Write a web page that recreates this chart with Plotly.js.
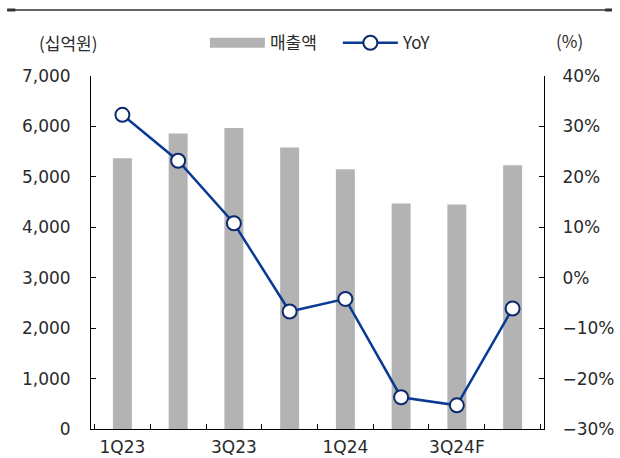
<!DOCTYPE html>
<html>
<head>
<meta charset="utf-8">
<script src="https://cdn.plot.ly/plotly-3.0.1.min.js"></script>
<style>html,body{margin:0;padding:0;background:#fff;}#chart{width:620px;height:458px;}</style>
</head>
<body>
<div id="chart"></div>
<script>
// Data
const quarters = ['1Q23','2Q23','3Q23','4Q23','1Q24','2Q24','3Q24F','4Q24F'];
const tickLabels = ['1Q23','','3Q23','','1Q24','','3Q24F',''];
const sales = [5370, 5860, 5970, 5580, 5150, 4470, 4450, 5230];   // 매출액 (십억원)
const yoy = [32.3, 23.2, 10.8, -6.7, -4.2, -23.7, -25.3, -6.1];   // YoY (%)

const FONT = 'DejaVu Sans, "Noto Sans CJK KR", sans-serif';
const KFONT = '"Noto Sans CJK KR", sans-serif';
const TXT = '#2a2a2a';

const traces = [
  {
    type: 'bar', name: '매출액', x: quarters, y: sales,
    marker: {color: '#b3b3b3'}, width: 0.34, showlegend: false,
    legendgroup: 'sales', hoverinfo: 'skip'
  },
  {
    type: 'scatter', mode: 'lines', name: '매출액', x: [null], y: [null],
    line: {color: '#b3b3b3', width: 10}, legendgroup: 'sales', hoverinfo: 'skip'
  },
  {
    type: 'scatter', mode: 'lines+markers', name: 'YoY', x: quarters, y: yoy, yaxis: 'y2',
    line: {color: '#0a3a94', width: 2.5},
    marker: {symbol: 'circle', size: 14, color: '#ffffff', line: {color: '#0d2a6e', width: 2}},
    hoverinfo: 'skip'
  }
];

const layout = {
  width: 620, height: 458,
  margin: {l: 91, r: 76, t: 76, b: 29, pad: 0},
  paper_bgcolor: '#ffffff', plot_bgcolor: '#ffffff',
  font: {family: FONT, size: 17, color: TXT},
  showlegend: true,
  legend: {
    orientation: 'h', x: 0.545, xanchor: 'center', y: 1.093, yanchor: 'middle',
    font: {family: KFONT, size: 17, color: TXT}, itemwidth: 55, tracegroupgap: 0,
    entrywidth: 63, bgcolor: 'rgba(0,0,0,0)'
  },
  xaxis: {
    type: 'category', tickmode: 'array', tickvals: quarters, ticktext: tickLabels,
    tickson: 'boundaries', ticks: 'inside', ticklen: 5, tickcolor: '#000', tickwidth: 1,
    tickangle: 0, automargin: false,
    showline: true, linecolor: '#000', linewidth: 1, showgrid: false, zeroline: false,
    tickfont: {family: FONT, size: 17, color: TXT}, ticklabelstandoff: 3
  },
  yaxis: {
    range: [0, 7000], dtick: 1000, tickformat: ',d', ticks: 'inside', ticklen: 5,
    tickcolor: '#000', showline: true, linecolor: '#000', linewidth: 1,
    showgrid: false, zeroline: false, ticklabelstandoff: 16, automargin: false,
    tickfont: {family: FONT, size: 17, color: TXT}
  },
  yaxis2: {
    overlaying: 'y', side: 'right', range: [-30, 40], dtick: 10, ticksuffix: '%',
    ticks: 'inside', ticklen: 5, tickcolor: '#000', showline: true, linecolor: '#000',
    linewidth: 1, showgrid: false, zeroline: false, ticklabelstandoff: 14, automargin: false,
    tickfont: {family: FONT, size: 17, color: TXT}
  },
  annotations: [
    {text: '(십억원)', xref: 'paper', yref: 'paper', x: -0.051, y: 1.095, xanchor: 'center', yanchor: 'middle',
     showarrow: false, font: {family: KFONT, size: 17, color: TXT}},
    {text: '(%)', xref: 'paper', yref: 'paper', x: 1.057, y: 1.1, xanchor: 'center', yanchor: 'middle',
     showarrow: false, font: {family: KFONT, size: 17, color: TXT}}
  ],
  shapes: [
    {type: 'line', xref: 'paper', yref: 'paper', x0: -0.185, x1: 1.15, y0: 1.187, y1: 1.187,
     line: {color: '#333', width: 1.5}},
    {type: 'line', xref: 'paper', yref: 'paper', x0: -0.185, x1: -0.167, y0: 1.187, y1: 1.187,
     line: {color: '#333', width: 3}},
    {type: 'line', xref: 'paper', yref: 'paper', x0: 1.135, x1: 1.15, y0: 1.187, y1: 1.187,
     line: {color: '#333', width: 3}}
  ]
};

Plotly.newPlot('chart', traces, layout, {staticPlot: true, displayModeBar: false});
</script>
</body>
</html>
